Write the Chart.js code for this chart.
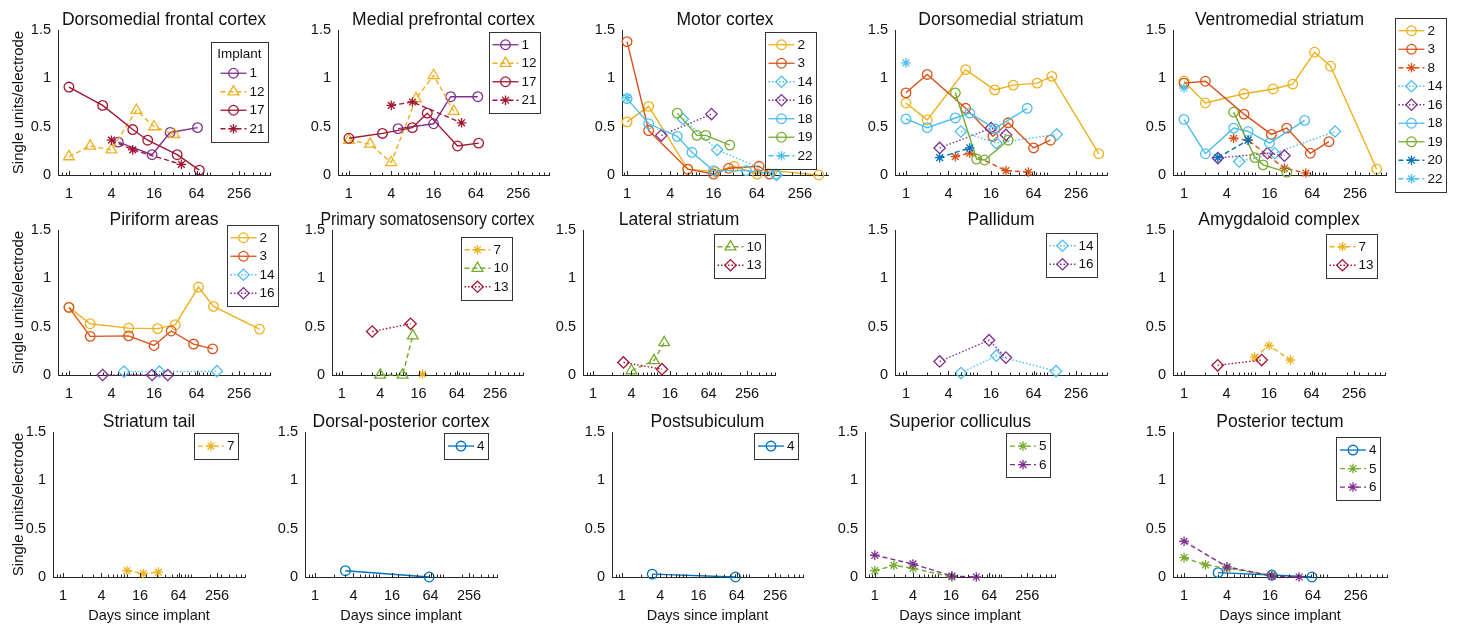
<!DOCTYPE html>
<html>
<head>
<meta charset="utf-8">
<script src="https://cdn.jsdelivr.net/npm/chart.js@4.4.1/dist/chart.umd.min.js"></script>
<style>
  html, body { margin: 0; padding: 0; background: #fff; }
  #page { position: relative; width: 1457px; height: 627px; overflow: hidden; }
  #page canvas { position: absolute; }
</style>
</head>
<body>
<div id="page"></div>
<script>
/* ---- data: days since implant vs single units/electrode, one block per region ---- */

// Dorsomedial frontal cortex
const dfcIds   = ["1", "12", "17", "21"];
const dfcDays  = [[5, 15, 27, 66], [1, 2, 4, 9, 16, 31], [1, 3, 8, 13, 34, 70], [4, 8, 39]];
const dfcUnits = [[0.34, 0.21, 0.44, 0.49], [0.19, 0.30, 0.26, 0.67, 0.50, 0.42], [0.91, 0.72, 0.47, 0.36, 0.21, 0.05], [0.36, 0.26, 0.11]];

// Medial prefrontal cortex
const mpcIds   = ["1", "12", "17", "21"];
const mpcDays  = [[5, 16, 28, 68], [1, 2, 4, 9, 16, 31], [1, 3, 8, 13, 35, 70], [4, 8, 40]];
const mpcUnits = [[0.48, 0.53, 0.81, 0.81], [0.36, 0.32, 0.13, 0.79, 1.03, 0.66], [0.38, 0.43, 0.49, 0.64, 0.30, 0.33], [0.72, 0.755, 0.54]];

// Motor cortex
const motIds   = ["2", "3", "14", "16", "18", "19", "22"];
const motDays  = [[1, 2, 7, 17, 31, 65, 105, 470], [1, 2, 7, 16, 26, 69, 97], [6, 18, 121], [3, 15], [1, 2, 5, 8, 16, 46, 118], [5, 9.4, 12.5, 27], [1]];
const motUnits = [[0.55, 0.71, 0.06, 0.035, 0.09, 0.01, 0.045, 0.0], [1.38, 0.46, 0.06, 0.01, 0.07, 0.09, 0.01], [0.58, 0.26, 0.0], [0.41, 0.63], [0.79, 0.53, 0.40, 0.235, 0.045, 0.045, 0.01], [0.64, 0.41, 0.41, 0.31], [0.80]];

// Dorsomedial striatum
const dmsIds   = ["2", "3", "8", "14", "16", "18", "19", "20", "22"];
const dmsDays  = [[1, 2, 7, 18, 33, 72, 116, 535], [1, 2, 7, 17, 28, 64, 111], [5, 8, 26, 54], [6, 19, 136], [3, 16, 26], [1, 2, 5, 8, 18, 52], [5, 10, 13, 28], [3, 8], [1]];
const dmsUnits = [[0.745, 0.57, 1.09, 0.88, 0.93, 0.95, 1.02, 0.22], [0.85, 1.04, 0.69, 0.40, 0.54, 0.28, 0.36], [0.19, 0.225, 0.045, 0.03], [0.45, 0.33, 0.42], [0.28, 0.485, 0.415], [0.58, 0.49, 0.59, 0.64, 0.48, 0.69], [0.85, 0.165, 0.155, 0.36], [0.18, 0.28], [1.16]];

// Ventromedial striatum
const vmsIds   = ["2", "3", "8", "14", "16", "18", "19", "20", "22"];
const vmsDays  = [[1, 2, 7, 18, 34, 69, 116, 518], [1, 2, 7, 17, 28, 60, 110], [5, 8, 26, 52], [6, 19, 134], [3, 15, 26], [1, 2, 5, 8, 16, 50], [5, 10, 13, 28], [3, 8], [1]];
const vmsUnits = [[0.97, 0.745, 0.84, 0.89, 0.94, 1.27, 1.125, 0.06], [0.95, 0.97, 0.63, 0.42, 0.485, 0.225, 0.345], [0.38, 0.36, 0.07, 0.02], [0.14, 0.225, 0.45], [0.175, 0.225, 0.20], [0.575, 0.22, 0.485, 0.45, 0.33, 0.565], [0.65, 0.18, 0.105, 0.03], [0.18, 0.36], [0.90]];

// Piriform areas
const pirIds   = ["2", "3", "14", "16"];
const pirDays  = [[1, 2, 7, 18, 32, 68, 111, 497], [1, 2, 7, 16, 28, 58, 108], [6, 19, 124], [3, 15, 25]];
const pirUnits = [[0.70, 0.53, 0.485, 0.48, 0.52, 0.91, 0.71, 0.475], [0.70, 0.40, 0.405, 0.305, 0.455, 0.32, 0.27], [0.035, 0.035, 0.04], [0.0, 0.0, 0.0]];

// Primary somatosensory cortex
const pscIds   = ["7", "10", "13"];
const pscDays  = [[18.5], [4, 9, 13], [3, 12]];
const pscUnits = [[0.01], [0.0, 0.0, 0.405], [0.45, 0.53]];

// Lateral striatum
const latIds   = ["10", "13"];
const latDays  = [[4, 9, 13], [3, 12]];
const latUnits = [[0.045, 0.15, 0.335], [0.13, 0.06]];

// Pallidum
const palIds   = ["14", "16"];
const palDays  = [[6, 19, 133], [3, 15, 26]];
const palUnits = [[0.02, 0.20, 0.04], [0.14, 0.36, 0.18]];

// Amygdaloid complex
const amyIds   = ["7", "13"];
const amyDays  = [[10, 16, 32], [3, 12.6]];
const amyUnits = [[0.185, 0.305, 0.155], [0.10, 0.155]];

// Striatum tail
const stIds   = ["7"];
const stDays  = [[10, 18, 31]];
const stUnits = [[0.065, 0.035, 0.05]];

// Dorsal-posterior cortex
const dpcIds   = ["4"];
const dpcDays  = [[3, 61]];
const dpcUnits = [[0.065, 0.0]];

// Postsubiculum
const psbIds   = ["4"];
const psbDays  = [[3, 61]];
const psbUnits = [[0.03, 0.0]];

// Superior colliculus
const scIds   = ["5", "6"];
const scDays  = [[1, 2, 4, 16.5], [1, 4, 16.5, 40]];
const scUnits = [[0.065, 0.12, 0.09, 0.0], [0.225, 0.135, 0.01, 0.0]];

// Posterior tectum
const ptIds   = ["4", "5", "6"];
const ptDays  = [[3, 17, 62], [1, 2, 4, 17], [1, 4, 17, 41]];
const ptUnits = [[0.045, 0.02, 0.0], [0.20, 0.125, 0.09, 0.02], [0.37, 0.105, 0.01, 0.0]];

const xTickValues = [1, 4, 16, 64, 256];

/* ---- styling ---- */
const FONT = '"Liberation Sans", Arial, Helvetica, sans-serif';
const AXIS = "#262626";
const INK  = "#111";

const YELLOW = "#EDB120", ORANGE = "#D95319", PURPLE = "#7E2F8E", CYAN = "#4DBEEE",
      GREEN = "#77AC30", BLUE = "#0072BD", RED = "#A2142F";
const SOLID = [], DASHED = [5, 3], DOTTED = [1.5, 2];

const implantStyle = {
  "1":  { color: PURPLE, marker: "circle",   dash: SOLID },
  "2":  { color: YELLOW, marker: "circle",   dash: SOLID },
  "3":  { color: ORANGE, marker: "circle",   dash: SOLID },
  "4":  { color: BLUE,   marker: "circle",   dash: SOLID },
  "5":  { color: GREEN,  marker: "star",     dash: DASHED },
  "6":  { color: PURPLE, marker: "star",     dash: DASHED },
  "7":  { color: YELLOW, marker: "star",     dash: DASHED },
  "8":  { color: ORANGE, marker: "star",     dash: DASHED },
  "10": { color: GREEN,  marker: "triangle", dash: DASHED },
  "12": { color: YELLOW, marker: "triangle", dash: DASHED },
  "13": { color: RED,    marker: "rectRot",  dash: DOTTED },
  "14": { color: CYAN,   marker: "rectRot",  dash: DOTTED },
  "16": { color: PURPLE, marker: "rectRot",  dash: DOTTED },
  "17": { color: RED,    marker: "circle",   dash: SOLID },
  "18": { color: CYAN,   marker: "circle",   dash: SOLID },
  "19": { color: GREEN,  marker: "circle",   dash: SOLID },
  "20": { color: BLUE,   marker: "star",     dash: DASHED },
  "21": { color: RED,    marker: "star",     dash: DASHED },
  "22": { color: CYAN,   marker: "star",     dash: DASHED }
};
const markerRadius = { circle: 4.8, triangle: 6.2, rectRot: 5.7, star: 4.8 };

// axes boxes in page pixels: [left, top, right, bottom]
const R1 = [30, 174.5], R2 = [230, 375], R3 = [431.7, 575.7];
const panels = [
  { title: "Dorsomedial frontal cortex", ids: dfcIds, days: dfcDays, units: dfcUnits, box: [58, R1[0], 270, R1[1]], legend: { right: 268, top: 42, title: "Implant" } },
  { title: "Medial prefrontal cortex", ids: mpcIds, days: mpcDays, units: mpcUnits, box: [338, R1[0], 549, R1[1]], legend: { right: 540, top: 32 } },
  { title: "Motor cortex", ids: motIds, days: motDays, units: motUnits, box: [622, R1[0], 828, R1[1]], xRange: [0.85, 630], legend: { right: 816, top: 32 } },
  { title: "Dorsomedial striatum", ids: dmsIds, days: dmsDays, units: dmsUnits, box: [895, R1[0], 1107, R1[1]] },
  { title: "Ventromedial striatum", ids: vmsIds, days: vmsDays, units: vmsUnits, box: [1173, R1[0], 1386, R1[1]], legend: { right: 1446, top: 18 } },

  { title: "Piriform areas", ids: pirIds, days: pirDays, units: pirUnits, box: [58, R2[0], 270, R2[1]], legend: { right: 278, top: 225 } },
  { title: "Primary somatosensory cortex", titleMax: 214, ids: pscIds, days: pscDays, units: pscUnits, box: [332, R2[0], 523, R2[1]], legend: { right: 512, top: 237 } },
  { title: "Lateral striatum", ids: latIds, days: latDays, units: latUnits, box: [583, R2[0], 775, R2[1]], legend: { right: 765, top: 234 } },
  { title: "Pallidum", ids: palIds, days: palDays, units: palUnits, box: [895, R2[0], 1107, R2[1]], legend: { right: 1097, top: 233 } },
  { title: "Amygdaloid complex", ids: amyIds, days: amyDays, units: amyUnits, box: [1173, R2[0], 1385, R2[1]], legend: { right: 1377, top: 234 } },

  { title: "Striatum tail", ids: stIds, days: stDays, units: stUnits, box: [53, R3[0], 245, R3[1]], legend: { right: 238, top: 433 } },
  { title: "Dorsal-posterior cortex", ids: dpcIds, days: dpcDays, units: dpcUnits, box: [305, R3[0], 497, R3[1]], legend: { right: 488, top: 433 } },
  { title: "Postsubiculum", ids: psbIds, days: psbDays, units: psbUnits, box: [612, R3[0], 803, R3[1]], legend: { right: 798, top: 433 } },
  { title: "Superior colliculus", ids: scIds, days: scDays, units: scUnits, box: [865, R3[0], 1055, R3[1]], legend: { right: 1050, top: 433 } },
  { title: "Posterior tectum", ids: ptIds, days: ptDays, units: ptUnits, box: [1173, R3[0], 1387, R3[1]], legend: { right: 1380, top: 437 } }
];

const minorTicks = [0.7, 0.8, 0.9, 2, 3, 5, 6, 7, 8, 9, 10, 20, 30, 40, 50, 60, 70, 80, 90,
                    100, 200, 300, 400, 500, 600, 700];

/* ---- titles, inward ticks and MATLAB-style legend boxes ---- */
function drawLegend(ctx, lg, offX, offY) {
  const rowH = 18.5, pad = 3.5, lineLen = 26, gap = 3;
  ctx.font = `13.5px ${FONT}`;
  const textW = Math.max(...lg.items.map(id => ctx.measureText(id).width));
  const itemW = lineLen + gap + textW;
  const titleW = lg.title ? ctx.measureText(lg.title).width + 6 : 0;
  const w = Math.max(itemW, titleW) + 2 * pad;
  const rows = lg.items.length + (lg.title ? 1 : 0);
  const h = rows * rowH + 2 * pad;
  const x1 = lg.right - offX, y0 = lg.top - offY, x0 = x1 - w;

  ctx.fillStyle = "#fff";
  ctx.fillRect(x0, y0, w, h);
  ctx.setLineDash([]);
  ctx.strokeStyle = "#333";
  ctx.lineWidth = 1;
  ctx.strokeRect(Math.round(x0) + 0.5, Math.round(y0) + 0.5, Math.round(w), Math.round(h));

  let row = 0;
  ctx.textBaseline = "middle";
  if (lg.title) {
    ctx.fillStyle = INK;
    ctx.textAlign = "center";
    ctx.fillText(lg.title, x0 + w / 2, y0 + pad + rowH / 2);
    row = 1;
  }
  ctx.textAlign = "left";
  lg.items.forEach(id => {
    const st = implantStyle[id];
    const cy = y0 + pad + rowH * (row + 0.5);
    const sx = x1 - pad - itemW;
    ctx.strokeStyle = st.color;
    ctx.lineWidth = 1.3;
    ctx.setLineDash(st.dash);
    ctx.beginPath();
    ctx.moveTo(sx, cy);
    ctx.lineTo(sx + lineLen, cy);
    ctx.stroke();
    ctx.setLineDash([]);
    ctx.fillStyle = "rgba(0,0,0,0)";
    Chart.helpers.drawPoint(ctx, { pointStyle: st.marker, radius: markerRadius[st.marker], borderWidth: 1.3, rotation: 0 }, sx + lineLen / 2, cy);
    ctx.fillStyle = INK;
    ctx.fillText(id, sx + lineLen + gap, cy + 0.5);
    row++;
  });
}

const panelDecor = {
  id: "panelDecor",
  afterDraw(chart, args, opts) {
    const ctx = chart.ctx, area = chart.chartArea, xs = chart.scales.x;
    ctx.save();

    ctx.strokeStyle = AXIS;
    ctx.lineWidth = 1;
    ctx.beginPath();
    minorTicks.concat(xTickValues).forEach(v => {
      if (v < xs.min || v > xs.max) return;
      const px = Math.round(xs.getPixelForValue(v)) + 0.5;
      const len = xTickValues.includes(v) ? 4 : 2.5;
      ctx.moveTo(px, area.bottom);
      ctx.lineTo(px, area.bottom - len);
    });
    ctx.stroke();

    ctx.fillStyle = INK;
    ctx.font = `17.5px ${FONT}`;
    ctx.textAlign = "center";
    ctx.textBaseline = "alphabetic";
    const cx = (area.left + area.right) / 2;
    if (opts.titleMax) ctx.fillText(opts.title, cx, area.top - 5, opts.titleMax);
    else ctx.fillText(opts.title, cx, area.top - 5);

    if (opts.legend) drawLegend(ctx, opts.legend, opts.offX, opts.offY);
    ctx.restore();
  }
};

/* ---- build one Chart.js chart per region ---- */
const page = document.getElementById("page");

panels.forEach((p, n) => {
  const col = n % 5, row = Math.floor(n / 5);
  const [L, T, R, B] = p.box;
  const yTitle = col === 0, xTitle = row === 2;
  const padTop = 28;
  const canvasLeft = yTitle ? 0 : L - 42;
  const yWidth = L - canvasLeft;
  const xHeight = xTitle ? 48 : 26;
  let padRight = 18;
  if (p.legend) padRight = Math.max(padRight, p.legend.right - R + 3);
  const width = Math.ceil(R - canvasLeft + padRight);
  const height = Math.ceil(padTop + (B - T) + xHeight);
  const canvasTop = T - padTop;

  const canvas = document.createElement("canvas");
  canvas.width = width;
  canvas.height = height;
  canvas.style.left = canvasLeft + "px";
  canvas.style.top = canvasTop + "px";
  canvas.style.width = width + "px";
  canvas.style.height = height + "px";
  page.appendChild(canvas);

  const datasets = p.ids.map((id, i) => {
    const st = implantStyle[id];
    return {
      label: id,
      data: p.days[i].map((d, j) => ({ x: d, y: p.units[i][j] })),
      borderColor: st.color,
      backgroundColor: "rgba(0,0,0,0)",
      borderWidth: 1.4,
      borderDash: st.dash,
      pointStyle: st.marker,
      pointRadius: markerRadius[st.marker],
      pointHoverRadius: markerRadius[st.marker],
      pointBorderWidth: 1.3,
      pointBorderColor: st.color,
      pointBackgroundColor: "rgba(0,0,0,0)",
      tension: 0,
      fill: false,
      clip: false,
      order: -i
    };
  });

  const xr = p.xRange || [0.7, 700];

  new Chart(canvas, {
    type: "line",
    data: { datasets },
    options: {
      responsive: false,
      animation: false,
      events: [],
      devicePixelRatio: 1,
      layout: { padding: { left: 0, top: padTop, right: padRight, bottom: 0 } },
      scales: {
        x: {
          type: "logarithmic",
          min: xr[0],
          max: xr[1],
          afterBuildTicks: s => { s.ticks = xTickValues.map(v => ({ value: v })); },
          afterFit: s => { s.height = xHeight; },
          grid: { display: false, drawTicks: false },
          border: { display: true, color: AXIS, width: 1 },
          ticks: {
            autoSkip: false, maxRotation: 0, padding: 10, color: INK,
            font: { family: FONT, size: 14.5 },
            callback: v => String(v)
          },
          title: {
            display: xTitle, text: "Days since implant", color: INK,
            font: { family: FONT, size: 14.5 }, padding: { top: 0, bottom: 0 }
          }
        },
        y: {
          min: 0,
          max: 1.5,
          afterFit: s => { s.width = yWidth; },
          grid: { display: false, drawTicks: false },
          border: { display: true, color: AXIS, width: 1 },
          ticks: {
            stepSize: 0.5, padding: 7, color: INK,
            font: { family: FONT, size: 14.5 },
            callback: v => String(v)
          },
          title: {
            display: yTitle, text: "Single units/electrode", color: INK,
            font: { family: FONT, size: 15 }, padding: { top: 10, bottom: 0 }
          }
        }
      },
      plugins: {
        legend: { display: false },
        tooltip: { enabled: false },
        panelDecor: {
          title: p.title,
          titleMax: p.titleMax,
          offX: canvasLeft,
          offY: canvasTop,
          legend: p.legend ? { ...p.legend, items: p.ids } : null
        }
      }
    },
    plugins: [panelDecor]
  });
});
</script>
</body>
</html>
